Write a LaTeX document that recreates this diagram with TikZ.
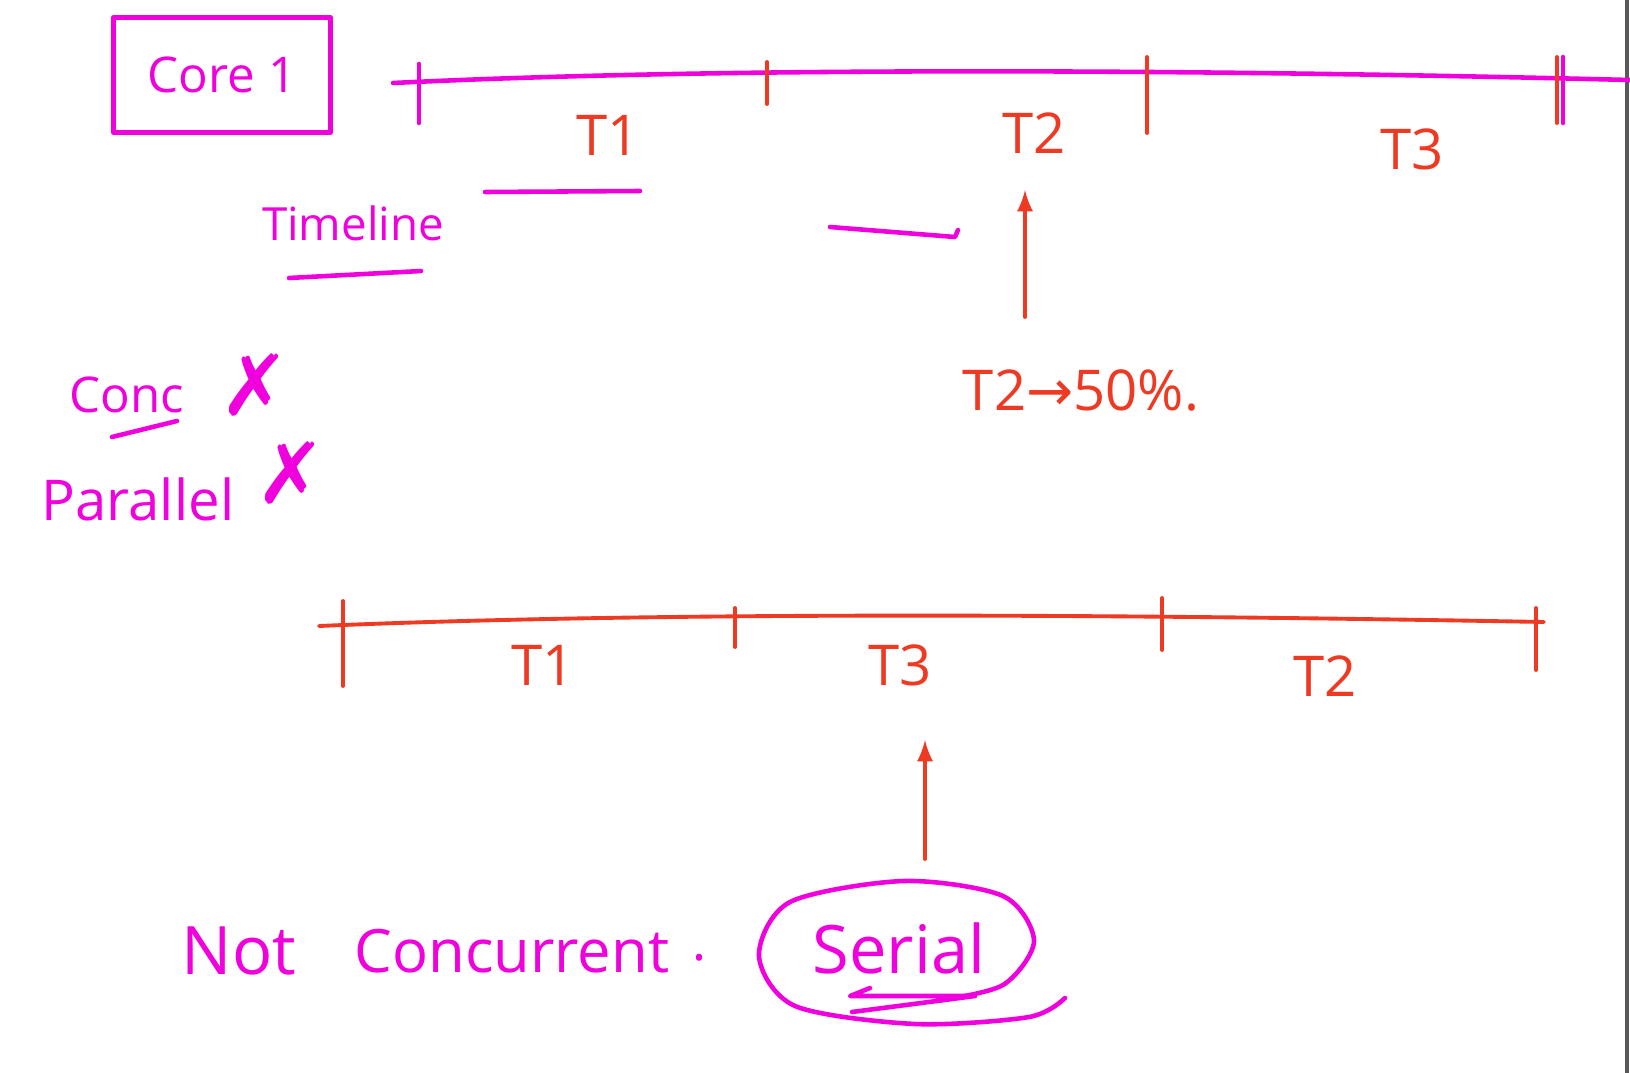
\documentclass[tikz,border=0pt]{standalone}
\usepackage{fontspec}
\setmainfont{Open Sans}
\newfontfamily\symfont{DejaVu Sans}
\usetikzlibrary{positioning, arrows.meta}
\tikzset{>=latex}
\definecolor{inkpink}{RGB}{240,0,220}
\definecolor{inkred}{RGB}{238,58,34}

\begin{document}
\begin{tikzpicture}[x=0.01cm,y=-0.01cm,line cap=round,line join=round,
    pinkpen/.style={draw=inkpink,line width=1.3pt},
    redpen/.style={color=inkred,line width=1.1pt},
    pinktext/.style={text=inkpink,font=\fontsize{15}{18}\selectfont,inner sep=0pt},
    redtext/.style={text=inkred,font=\fontsize{16}{19}\selectfont,inner sep=0pt},
    cross/.style={text=inkpink,font=\symfont\fontsize{24}{28}\selectfont,inner sep=0pt}]
    \useasboundingbox (0,0) rectangle (1630,1073);
    \fill[white] (0,0) rectangle (1630,1073);
    \draw[black!65, line width=1pt] (1627,0) -- (1627,1073);

    % core and its timeline
    \node[pinktext, pinkpen, font=\fontsize{14}{17}\selectfont, minimum width=2.17cm, minimum height=1.15cm] (core) at (222,75) {Core 1};
    \coordinate (topA) at (393,83);
    \coordinate (topB) at (1630,80);
    \draw[pinkpen] (topA) .. controls (700,68) and (1150,68) .. (topB);
    \draw[pinkpen] (419,64) -- (419,123);
    \foreach \x/\ya/\yb in {767/62/104, 1147/57/133, 1557/57/123} {
        \draw[redpen] (\x,\ya) -- (\x,\yb);
    }
    \draw[pinkpen] (1563,57) -- (1563,123);
    \node[redtext] (t1a) at (608,135) {T1};
    \node[redtext] (t2a) at (1034,133) {T2};
    \node[redtext] (t3a) at (1412,149) {T3};
    \draw[pinkpen] (485,192) -- (640,191);

    \node[pinktext, font=\fontsize{13}{16}\selectfont] (timeline) at (353,223) {Timeline};
    \draw[pinkpen] (289,278) -- (421,271);
    \draw[pinkpen] (830,227) -- (955,237) -- (958,230);

    \coordinate (fromA) at (1025,317);
    \coordinate (tipA) at (1025,190);
    \draw[->, redpen] (fromA) -- (tipA);
    \node[redtext] (share) at (1081,390) {T2{\symfont→}50\%.};

    % neither concurrent nor parallel
    \node[pinktext, font=\fontsize{14}{17}\selectfont] (conc) at (127,395) {Conc};
    \draw[pinkpen] (112,437) -- (177,421);
    \node[cross] (xconc) at (255,385) {✗};
    \node[pinktext, font=\fontsize{16}{19}\selectfont] (para) at (138,499) {Parallel};
    \node[cross] (xpara) at (291,473) {✗};

    % serial run
    \coordinate (botA) at (319,626);
    \coordinate (botB) at (1544,622);
    \draw[redpen] (botA) .. controls (600,614) and (1000,612) .. (botB);
    \foreach \x/\ya/\yb in {343/601/686, 735/608/647, 1162/598/650, 1536/608/670} {
        \draw[redpen] (\x,\ya) -- (\x,\yb);
    }
    \node[redtext] (t1b) at (543,665) {T1};
    \node[redtext] (t3b) at (900,665) {T3};
    \node[redtext] (t2b) at (1325,676) {T2};

    \coordinate (fromB) at (925,859);
    \coordinate (tipB) at (925,740);
    \draw[->, redpen] (fromB) -- (tipB);

    \node[pinktext, font=\fontsize{19}{23}\selectfont] (not) at (239,951) {Not};
    \node[pinktext, font=\fontsize{17}{20}\selectfont] (concur) at (512,951) {Concurrent};
    \node[pinktext] (dot) at (700,958) {.};
    \node[pinktext, font=\fontsize{19}{23}\selectfont] (serial) at (899,948) {Serial};
    \draw[pinkpen] (870,988) -- (850,996) -- (975,996) -- (852,1012);
    \draw[pinkpen] plot[smooth] coordinates {(1065,998) (1029,1017) (915,1024) (795,1006)
        (759,956) (790,902) (904,881) (1003,896) (1034,941) (1003,985) (936,1001)};
\end{tikzpicture}
\end{document}
